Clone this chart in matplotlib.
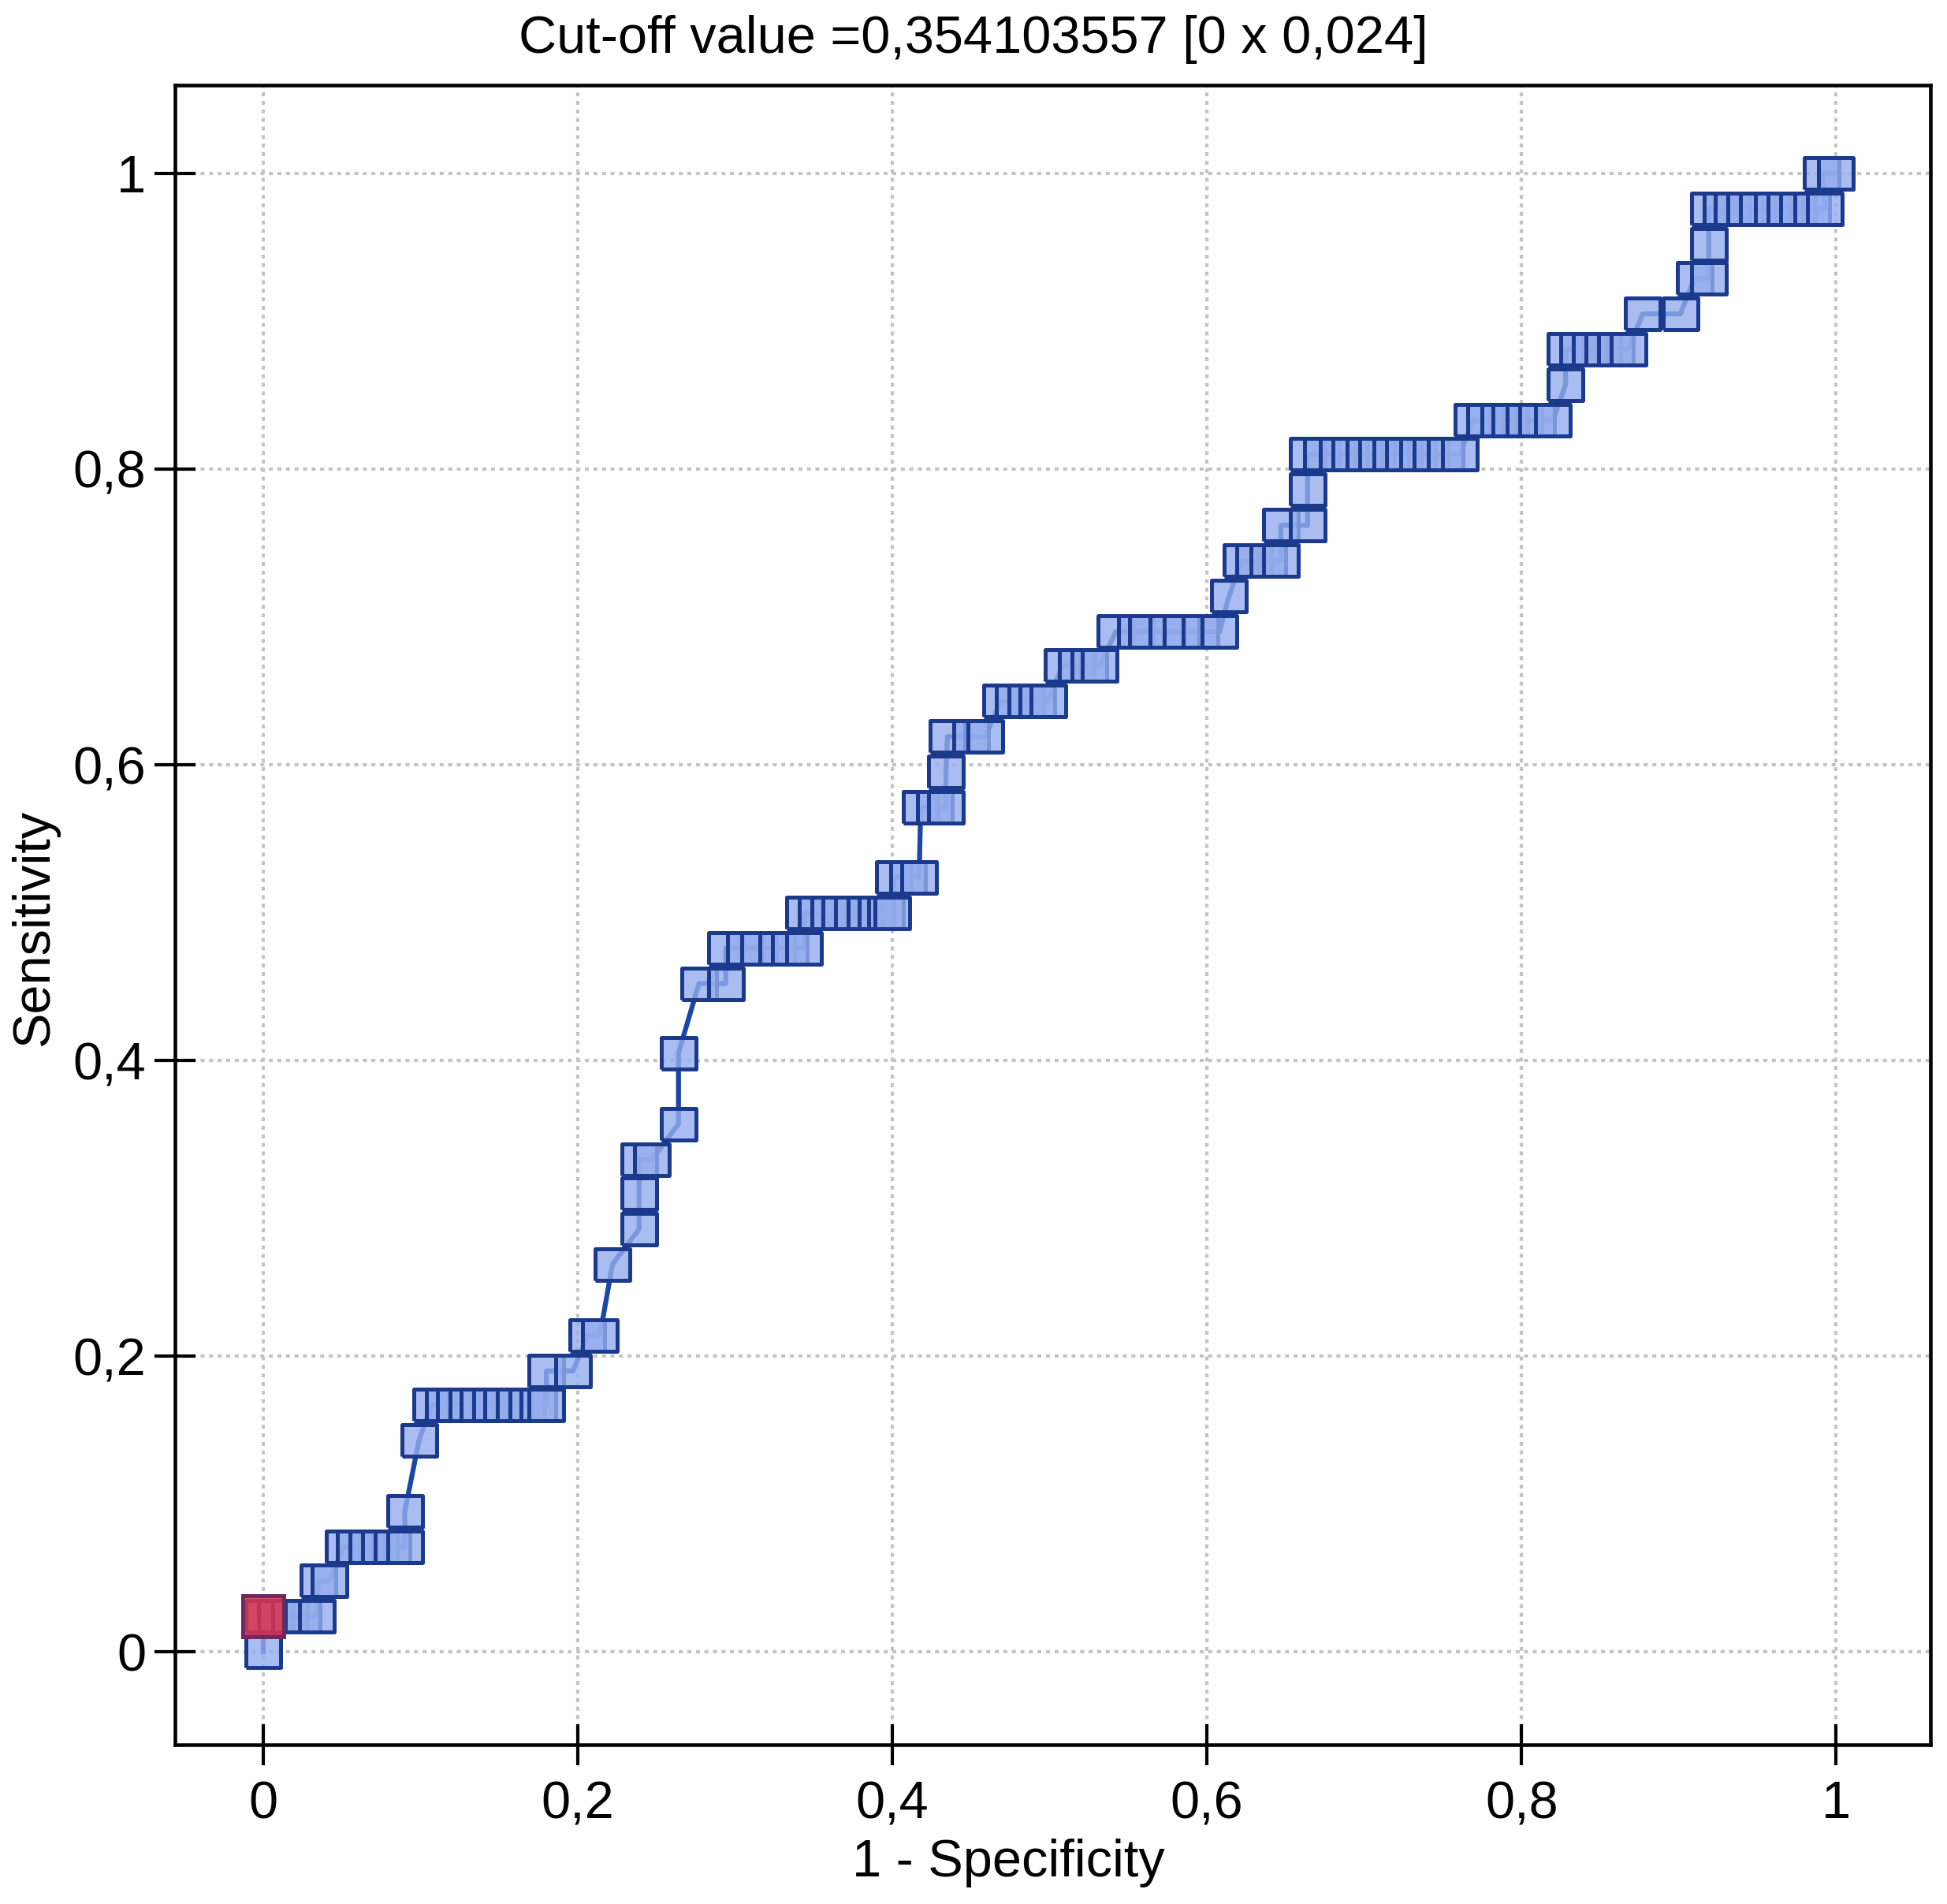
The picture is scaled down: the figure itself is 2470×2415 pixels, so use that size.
import matplotlib
matplotlib.use("Agg")
import matplotlib.pyplot as plt
from matplotlib import font_manager

# sensitivity levels (k/42) and the 1 - specificity values of the points on each level
tpr_levels = [0.0, 0.024, 0.048, 0.071, 0.095, 0.143, 0.167, 0.190, 0.214,
              0.262, 0.286, 0.310, 0.333, 0.357, 0.405, 0.452, 0.476, 0.500,
              0.524, 0.571, 0.595, 0.619, 0.643, 0.667, 0.690, 0.714, 0.738,
              0.762, 0.786, 0.810, 0.833, 0.857, 0.881, 0.905, 0.929, 0.952,
              0.976, 1.0]
fpr_rows = [
    [0.0],
    [0.0, 0.008, 0.017, 0.025, 0.034],
    [0.035, 0.042],
    [0.051, 0.058, 0.066, 0.074, 0.082, 0.09],
    [0.09],
    [0.099],
    [0.107, 0.115, 0.122, 0.13, 0.137, 0.145, 0.152, 0.16, 0.168, 0.175, 0.18],
    [0.18, 0.197],
    [0.206, 0.214],
    [0.222],
    [0.239],
    [0.239],
    [0.239, 0.247],
    [0.264],
    [0.264],
    [0.277, 0.294],
    [0.294, 0.306, 0.315, 0.327, 0.335, 0.344],
    [0.344, 0.352, 0.36, 0.367, 0.375, 0.383, 0.39, 0.396, 0.4],
    [0.401, 0.41, 0.417],
    [0.418, 0.427, 0.434],
    [0.434],
    [0.435, 0.45, 0.459],
    [0.469, 0.477, 0.485, 0.492, 0.499],
    [0.508, 0.517, 0.525, 0.532],
    [0.542, 0.555, 0.562, 0.575, 0.584, 0.596, 0.608],
    [0.614],
    [0.622, 0.63, 0.639, 0.647],
    [0.647, 0.664],
    [0.664],
    [0.664, 0.673, 0.683, 0.691, 0.7, 0.708, 0.717, 0.725, 0.734, 0.743, 0.752, 0.761],
    [0.769, 0.777, 0.786, 0.793, 0.802, 0.81, 0.82],
    [0.828],
    [0.828, 0.836, 0.844, 0.852, 0.86, 0.868],
    [0.877, 0.901],
    [0.91, 0.919],
    [0.919],
    [0.919, 0.927, 0.934, 0.942, 0.95, 0.96, 0.968, 0.976, 0.985, 0.993],
    [0.991, 1.0],
]
cut_fpr = 0.0
cut_tpr = 0.024

x_ticks = [0, 0.2, 0.4, 0.6, 0.8, 1]
tick_labels = ["0", "0,2", "0,4", "0,6", "0,8", "1"]
title = "Cut-off value =0,354103557 [0 x 0,024]"

fpr = []
tpr = []
for level, row in zip(tpr_levels, fpr_rows):
    for v in row:
        fpr.append(v)
        tpr.append(level)

names = {f.name for f in font_manager.fontManager.ttflist}
fam = [n for n in ["Liberation Sans Narrow", "Liberation Sans", "DejaVu Sans"] if n in names]
plt.rcParams["font.family"] = fam

fig = plt.figure(figsize=(24.7, 24.15), dpi=100)
ax = fig.add_axes([0.0899, 0.0836, 0.9016, 0.8717])

# slightly wide rectangle like the original markers
rect = [(-1, -0.92), (1, -0.92), (1, 0.92), (-1, 0.92), (-1, -0.92)]

ax.plot(fpr, tpr, color="#1a47a8", lw=4.5, zorder=3)
ax.plot(fpr, tpr, ls="none", marker=rect, ms=32, mew=3.6,
        mfc=(0.58, 0.68, 0.93, 0.8), mec="#1b3a8c", zorder=4)
ax.plot([cut_fpr], [cut_tpr], ls="none", marker="s", ms=37, mew=3.6,
        mfc=(0.86, 0.2, 0.3, 0.85), mec="#6a2a5c", zorder=5)

ax.set_xlim(-0.0561, 1.060)
ax.set_ylim(-0.0629, 1.0597)
ax.set_xticks(x_ticks)
ax.set_xticklabels(tick_labels)
ax.set_yticks(x_ticks)
ax.set_yticklabels(tick_labels)

ax.grid(True, color="#c4c4c4", lw=3, ls=(0, (1.2, 1.4)), zorder=1)
for s in ax.spines.values():
    s.set_linewidth(3.3)
ax.tick_params(direction="inout", length=37, width=3, labelsize=48)
ax.tick_params(axis="y", pad=8)
ax.tick_params(axis="x", pad=14)

fig.text(0.5, 1 - 50 / 2415, title, ha="center", va="center", fontsize=48)
fig.text(1279 / 2470, 1 - 2363 / 2415, "1 - Specificity", ha="center",
         va="center", fontsize=48)
fig.text(44 / 2470, 1 - 1177 / 2415, "Sensitivity", ha="center", va="center",
         rotation=90, fontsize=48)

fig.savefig("out.png", dpi=100)
